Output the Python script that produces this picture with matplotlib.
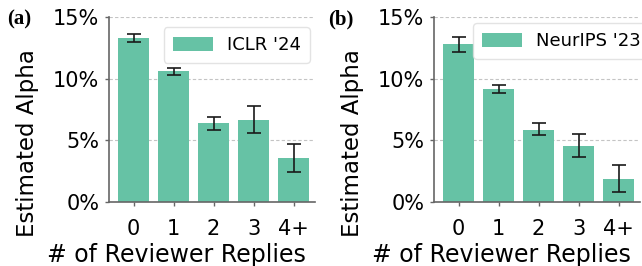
import numpy as np
import matplotlib
matplotlib.use("Agg")
import matplotlib.pyplot as plt
from matplotlib.ticker import FuncFormatter

categories = ["0", "1", "2", "3", "4+"]

# ICLR '24
iclr_alpha = [13.3, 10.65, 6.43, 6.68, 3.6]
iclr_lo = [13.0, 10.3, 5.86, 5.6, 2.46]
iclr_hi = [13.6, 10.9, 6.9, 7.78, 4.68]

# NeurIPS '23
neurips_alpha = [12.84, 9.16, 5.86, 4.57, 1.89]
neurips_lo = [12.19, 8.86, 5.4, 3.68, 0.78]
neurips_hi = [13.4, 9.46, 6.38, 5.49, 2.97]

panels = [("(a)", "ICLR '24", iclr_alpha, iclr_lo, iclr_hi),
          ("(b)", "NeurIPS '23", neurips_alpha, neurips_lo, neurips_hi)]

plt.rcParams['font.family'] = ['DejaVu Sans']

W, H = 642, 266
fig = plt.figure(figsize=(W / 100, H / 100), dpi=100)
# axes boxes in pixels: left, top, width, height
boxes = [(109, 17, 206, 185), (434, 17, 206, 185)]
tag_x = [7, 328]
# legend anchor (upper right corner, axes fraction); right box runs past the figure edge
leg_anchor = [(1 - 5 / 206, 1 - 10 / 185), (1.048, 1 - 6 / 185)]

for box, tx, anc, (tag, name, vals, lo, hi) in zip(boxes, tag_x, leg_anchor, panels):
    l, t, w, h = box
    ax = fig.add_axes([l / W, 1 - (t + h) / H, w / W, h / H])
    x = np.arange(len(categories))
    vals = np.array(vals)
    yerr = np.array([vals - np.array(lo), np.array(hi) - vals])
    ax.bar(x, vals, width=0.78, color="#66c2a5", label=name, zorder=2)
    ax.errorbar(x, vals, yerr=yerr, fmt="none", ecolor="#1a1a1a",
                elinewidth=1.2, capsize=5, capthick=1.2, zorder=3)
    ax.set_ylim(0, 15)
    ax.set_xlim(-0.6125, 4.5375)
    ax.set_yticks([0, 5, 10, 15])
    ax.yaxis.set_major_formatter(FuncFormatter(lambda v, p: f"{v:.0f}%"))
    ax.set_xticks(x)
    ax.set_xticklabels(categories)
    ax.tick_params(labelsize=15, color="#666666", length=3, width=1)
    ax.tick_params(axis="x", pad=9)
    ax.tick_params(axis="y", pad=4)
    ax.grid(axis="y", linestyle=(0, (3, 2)), color="#c4c4c4", linewidth=0.8, zorder=0)
    for s in ["top", "right"]:
        ax.spines[s].set_visible(False)
    for s in ["left", "bottom"]:
        ax.spines[s].set_color("#666666")
        ax.spines[s].set_linewidth(1.2)
    ax.set_ylabel("Estimated Alpha", fontsize=16.5)
    ax.set_xlabel("# of Reviewer Replies", fontsize=17)
    # labels sit off-centre in the original
    ax.yaxis.set_label_coords(-0.341, 0.316)
    ax.xaxis.set_label_coords(0.328, -0.222)
    ax.legend(loc="upper right", bbox_to_anchor=anc,
              borderaxespad=0, fontsize=13, frameon=True, edgecolor="#dddddd",
              handlelength=2.2, handleheight=0.8, handletextpad=0.8, borderpad=0.5)
    fig.text(tx / W, 1 - 9 / H, tag, fontsize=15, fontweight="bold",
             family="Liberation Serif", va="top", ha="left")

plt.savefig("out.png", dpi=100)
